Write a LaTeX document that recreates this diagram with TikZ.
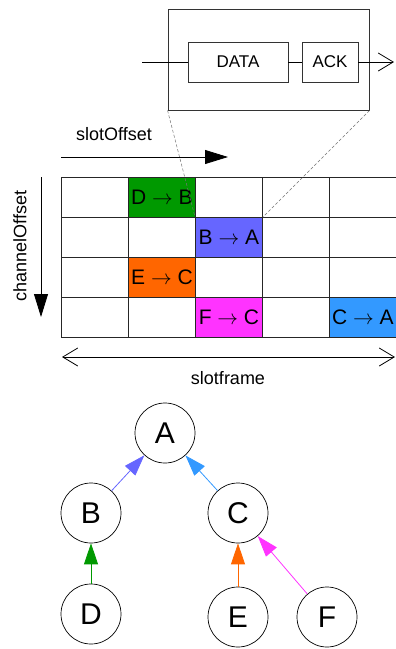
\documentclass[tikz,border=0pt]{standalone}
\usepackage{fontspec}
\setmainfont{Liberation Sans}
\usetikzlibrary{arrows.meta}
\definecolor{cgreen}{HTML}{009900}
\definecolor{cblue}{HTML}{6666FF}
\definecolor{corange}{HTML}{FF6600}
\definecolor{cmagenta}{HTML}{FF33FF}
\definecolor{csky}{HTML}{3399FF}
\newcommand{\sendto}{\ensuremath{\rightarrow}}
\tikzset{
  box/.style={draw=black!80, line width=0.9pt, inner sep=0pt, font=\fontsize{17}{20}\selectfont},
  cellbox/.style={draw=black!85, line width=0.9pt, minimum width=67pt, minimum height=40pt, inner sep=0pt, anchor=north west, font=\fontsize{21}{24}\selectfont},
  treenode/.style={circle, draw=black, line width=0.7pt, minimum size=60pt, inner sep=0pt, font=\fontsize{30}{34}\selectfont},
  axlabel/.style={font=\fontsize{18}{21}\selectfont},
  bigtri/.style={-{Triangle[length=23pt,width=14pt]}, line width=0.8pt},
  barb/.style={{Straight Barb[length=15pt,width=18pt,line width=0.8pt]}-{Straight Barb[length=15pt,width=18pt,line width=0.8pt]}, line width=0.8pt},
  rbarb/.style={-{Straight Barb[length=15pt,width=18pt,line width=0.8pt]}, line width=0.8pt},
  treearrow/.style={-{Triangle[length=21pt,width=14pt]}, line width=0.8pt},
  zoomline/.style={densely dashed, draw=black!55, line width=0.5pt}
}
\begin{document}
\begin{tikzpicture}[x=1pt,y=-1pt]
\useasboundingbox (0,0) rectangle (396,649);
% top packet box
\node[box, minimum width=201pt, minimum height=101pt] (frame) at (268.5,59.5) {};
\node[box, minimum width=100pt, minimum height=40pt] (data) at (238,62) {DATA};
\node[box, minimum width=56pt, minimum height=40pt] (ack) at (330,62) {ACK};
\coordinate (pin) at (142,62);
\coordinate (pout) at (394,62);
\draw[line width=0.8pt] (pin) -- (data.west);
\draw[line width=0.8pt] (data.east) -- (ack.west);
\draw[rbarb] (ack.east) -- (pout);
% axis labels and arrows
\node[axlabel] (so) at (114,134) {slotOffset};
\coordinate (soa) at (61,157);
\coordinate (sob) at (228,157);
\draw[bigtri] (soa) -- (sob);
\node[axlabel, rotate=90] (co) at (20,246) {channelOffset};
\coordinate (coa) at (41,177);
\coordinate (cob) at (41,317);
\draw[bigtri] (coa) -- (cob);
% grid
\foreach \r in {1,...,4}{
  \foreach \c in {1,...,5}{
    \node[cellbox] (cell-\r-\c) at ({61+67*(\c-1)},{177+40*(\r-1)}) {};
  }
}
\node[cellbox, fill=cgreen] (db) at (128,177) {D \sendto{} B};
\node[cellbox, fill=cblue] (ba) at (195,217) {B \sendto{} A};
\node[cellbox, fill=corange] (ec) at (128,257) {E \sendto{} C};
\node[cellbox, fill=cmagenta] (fc) at (195,297) {F \sendto{} C};
\node[cellbox, fill=csky] (ca) at (329,297) {C \sendto{} A};
% zoom lines
\draw[zoomline] (frame.south west) -- (ba.north west);
\draw[zoomline] (frame.south east) -- (ba.north east);
% slotframe
\coordinate (sfa) at (62,357);
\coordinate (sfb) at (395,357);
\draw[barb] (sfa) -- (sfb);
\node[axlabel] (sf) at (228,378) {slotframe};
% tree
\node[treenode] (A) at (165,433) {A};
\node[treenode] (B) at (91,513) {B};
\node[treenode] (C) at (238,513) {C};
\node[treenode] (D) at (91,614) {D};
\node[treenode] (E) at (238,617) {E};
\node[treenode] (F) at (327,617) {F};
\draw[treearrow, cblue] (B) -- (A);
\draw[treearrow, csky] (C) -- (A);
\draw[treearrow, cgreen] (D) -- (B);
\draw[treearrow, corange] (E) -- (C);
\draw[treearrow, cmagenta] (F) -- (C);
\end{tikzpicture}
\end{document}
